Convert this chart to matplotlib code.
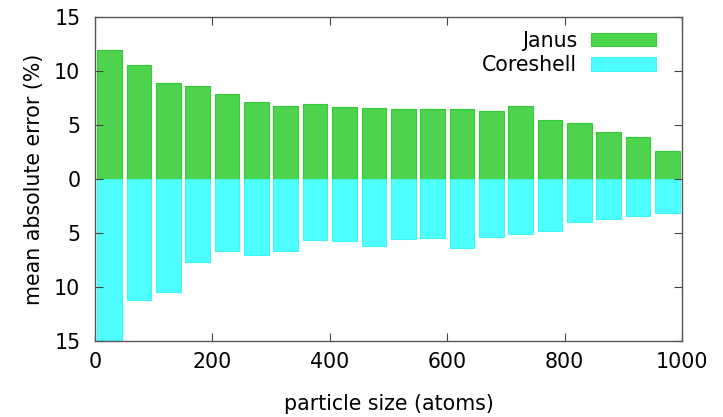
import matplotlib
matplotlib.use('Agg')
import matplotlib.pyplot as plt
import numpy as np

# particle size bins (centre of each bin, atoms)
sizes = [25, 75, 125, 175, 225, 275, 325, 375, 425, 475,
         525, 575, 625, 675, 725, 775, 825, 875, 925, 975]
janus = [11.9, 10.55, 8.9, 8.65, 7.85, 7.15, 6.75, 6.95, 6.65, 6.6,
         6.5, 6.5, 6.5, 6.3, 6.75, 5.45, 5.2, 4.35, 3.85, 2.55]
coreshell = [16.0, 11.2, 10.5, 7.7, 6.65, 7.05, 6.65, 5.65, 5.7, 6.2,
             5.6, 5.5, 6.4, 5.35, 5.05, 4.8, 4.0, 3.7, 3.45, 3.15]
yticks = [-15, -10, -5, 0, 5, 10, 15]

fs = 14.8

fig = plt.figure(figsize=(7.23, 4.17), dpi=100)
ax = fig.add_axes([0.1314, 0.1823, 0.8119, 0.7769])

ax.bar(sizes, janus, width=42, color='#4dd34d', edgecolor='#35c935',
       linewidth=0.8, label='Janus')
ax.bar(sizes, [-v for v in coreshell], width=42, color='#4dffff',
       edgecolor='#40f5f5', linewidth=0.8, label='Coreshell')

ax.set_xlim(0, 1000)
ax.set_ylim(-15, 15)
ax.set_xticks([0, 200, 400, 600, 800, 1000])
ax.set_yticks(yticks)
ax.set_yticklabels([str(abs(t)) for t in yticks])
ax.tick_params(direction='in', top=True, right=True, length=6,
               labelsize=fs, color='#444444')
ax.tick_params(axis='y', pad=10.5)
ax.tick_params(axis='x', pad=8)
for s in ax.spines.values():
    s.set_color('#555555')
    s.set_linewidth(1.0)

ax.set_xlabel('particle size (atoms)', fontsize=fs, labelpad=16)
ax.set_ylabel('mean absolute error (%)', fontsize=fs, labelpad=7)

ax.legend(loc='upper right', bbox_to_anchor=(0.956, 0.957), frameon=False,
          markerfirst=False, fontsize=fs, handlelength=3.17, handleheight=0.63,
          borderpad=0, borderaxespad=0, labelspacing=0.2, handletextpad=0.68)

plt.savefig('out.png', dpi=100)
